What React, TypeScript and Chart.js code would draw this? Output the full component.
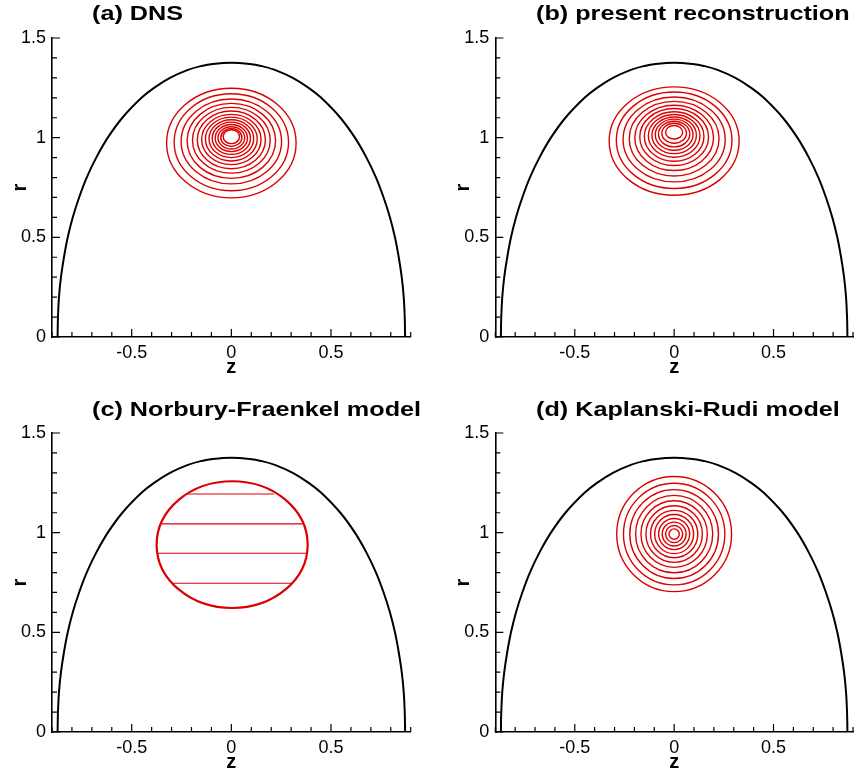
import React, { useEffect, useRef } from "react";
import { Chart, registerables } from "chart.js";

Chart.register(...registerables);

// ---------- tick labels ----------
const Z_TICKS = [-0.5, 0, 0.5];
const R_TICKS = [0, 0.5, 1, 1.5];
const Z_MINOR = [-0.9, -0.8, -0.7, -0.6, -0.5, -0.4, -0.3, -0.2, -0.1, 0, 0.1, 0.2, 0.3, 0.4, 0.5, 0.6, 0.7, 0.8, 0.9];
const R_MINOR = [0, 0.1, 0.2, 0.3, 0.4, 0.5, 0.6, 0.7, 0.8, 0.9, 1.0, 1.1, 1.2, 1.3, 1.4, 1.5];

// ---------- bubble boundary (left half, mirrored to the right) ----------
const BOUNDARY_R = [0, 0.1, 0.2, 0.3, 0.4, 0.5, 0.6, 0.7, 0.8, 0.9, 1.0, 1.1, 1.2, 1.25, 1.3, 1.34, 1.36, 1.37, 1.376];
const BOUNDARY_Z = [-0.872, -0.870, -0.865, -0.855, -0.840, -0.821, -0.796, -0.764, -0.726, -0.678, -0.62, -0.547, -0.451, -0.388, -0.308, -0.218, -0.149, -0.093, 0];

// ---------- (a) DNS contours (ellipses) ----------
const DNS_ZC = 0;
const DNS_RC = [0.973, 0.977, 0.981, 0.984, 0.987, 0.989, 0.991, 0.993, 0.995, 0.997, 0.998, 0.999, 1.001, 1.005];
const DNS_A = [0.325, 0.287, 0.252, 0.222, 0.195, 0.171, 0.149, 0.13, 0.112, 0.096, 0.081, 0.067, 0.053, 0.041];
const DNS_B = [0.275, 0.243, 0.213, 0.188, 0.165, 0.145, 0.126, 0.11, 0.095, 0.081, 0.068, 0.056, 0.045, 0.035];

// ---------- (b) present reconstruction contours ----------
const REC_ZC = 0;
const REC_RC = [0.983, 0.987, 0.991, 0.995, 0.999, 1.003, 1.006, 1.009, 1.012, 1.015, 1.018, 1.022, 1.027];
const REC_A = [0.327, 0.291, 0.257, 0.226, 0.198, 0.173, 0.15, 0.13, 0.112, 0.095, 0.079, 0.062, 0.043];
const REC_B = [0.272, 0.242, 0.213, 0.187, 0.164, 0.143, 0.124, 0.107, 0.092, 0.078, 0.064, 0.05, 0.034];

// ---------- (c) Norbury-Fraenkel: core outline and level lines ----------
const NF_ZC = 0.004;
const NF_RC = 0.94;
const NF_A = 0.379;
const NF_B = 0.318;
const NF_LINE_R = [1.194, 1.044, 0.897, 0.746];
const NF_LINE_Z0 = [-0.22, -0.352, -0.371, -0.293];
const NF_LINE_Z1 = [0.215, 0.358, 0.379, 0.31];

// ---------- (d) Kaplanski-Rudi contours (circles) ----------
const KR_ZC = 0;
const KR_RC = 0.993;
const KR_RADIUS = [0.289, 0.255, 0.223, 0.194, 0.167, 0.142, 0.119, 0.098, 0.078, 0.06, 0.043, 0.026];

const RED = "#dc0000";
const FONT = "'Liberation Sans', Arial, Helvetica, sans-serif";

type Ellipse = { zc: number; rc: number; a: number; b: number; w: number };

const dnsEllipses: Ellipse[] = DNS_A.map((a, i) => ({ zc: DNS_ZC, rc: DNS_RC[i], a, b: DNS_B[i], w: 1.4 }));
const recEllipses: Ellipse[] = REC_A.map((a, i) => ({ zc: REC_ZC, rc: REC_RC[i], a, b: REC_B[i], w: 1.4 }));
const krEllipses: Ellipse[] = KR_RADIUS.map((a) => ({ zc: KR_ZC, rc: KR_RC, a, b: a, w: 1.4 }));
const nfEllipses: Ellipse[] = [{ zc: NF_ZC, rc: NF_RC, a: NF_A, b: NF_B, w: 2.2 }];

const boundaryPoints = [
  ...BOUNDARY_Z.map((z, i) => ({ x: z, y: BOUNDARY_R[i] })),
  ...BOUNDARY_Z.slice(0, -1)
    .map((z, i) => ({ x: -z, y: BOUNDARY_R[i] }))
    .reverse(),
];

type PanelCfg = {
  id: string;
  title: string;
  left: number;
  top: number;
  w: number;
  h: number;
  area: { l: number; t: number; r: number; b: number };
  titleLeft: number;
  titleTop: number;
  ellipses: Ellipse[];
  nf?: boolean;
};

const Y_W = 52;
const X_H = 44;

const PANELS: PanelCfg[] = [
  { id: "a", title: "(a) DNS", left: 0, top: 0, w: 427, h: 388, area: { l: 52, t: 38, r: 410.7, b: 337 }, titleLeft: 92, titleTop: 2, ellipses: dnsEllipses },
  { id: "b", title: "(b) present reconstruction", left: 427, top: 0, w: 427, h: 388, area: { l: 68.3, t: 38, r: 426, b: 337 }, titleLeft: 535.5, titleTop: 2, ellipses: recEllipses },
  { id: "c", title: "(c) Norbury-Fraenkel model", left: 0, top: 388, w: 427, h: 388, area: { l: 52, t: 45, r: 410.7, b: 344 }, titleLeft: 92, titleTop: 397.5, ellipses: nfEllipses, nf: true },
  { id: "d", title: "(d) Kaplanski-Rudi model", left: 427, top: 388, w: 427, h: 388, area: { l: 68.3, t: 45, r: 426, b: 344 }, titleLeft: 535.5, titleTop: 397.5, ellipses: krEllipses },
];

function contourPlugin(ellipses: Ellipse[]) {
  return {
    id: "contours",
    afterDatasetsDraw(chart: any) {
      const { ctx, chartArea } = chart;
      const xs = chart.scales.x;
      const ys = chart.scales.y;
      ctx.save();
      ctx.beginPath();
      ctx.rect(chartArea.left, chartArea.top, chartArea.right - chartArea.left, chartArea.bottom - chartArea.top);
      ctx.clip();
      ctx.strokeStyle = RED;
      for (const e of ellipses) {
        const cx = xs.getPixelForValue(e.zc);
        const cy = ys.getPixelForValue(e.rc);
        const rx = Math.abs(xs.getPixelForValue(e.zc + e.a) - cx);
        const ry = Math.abs(ys.getPixelForValue(e.rc + e.b) - cy);
        ctx.lineWidth = e.w;
        ctx.beginPath();
        ctx.ellipse(cx, cy, rx, ry, 0, 0, Math.PI * 2);
        ctx.stroke();
      }
      ctx.restore();
    },
  };
}

const innerTicksPlugin = {
  id: "innerTicks",
  afterDraw(chart: any) {
    const { ctx, chartArea } = chart;
    const xs = chart.scales.x;
    const ys = chart.scales.y;
    ctx.save();
    ctx.strokeStyle = "#000";
    ctx.lineWidth = 1.2;
    ctx.beginPath();
    for (const v of Z_MINOR) {
      const major = Z_TICKS.some((t) => Math.abs(t - v) < 1e-9);
      const len = major ? 8 : 5;
      const px = xs.getPixelForValue(v);
      ctx.moveTo(px, chartArea.bottom);
      ctx.lineTo(px, chartArea.bottom - len);
    }
    for (const v of R_MINOR) {
      const major = R_TICKS.some((t) => Math.abs(t - v) < 1e-9);
      const len = major ? 8 : 5;
      const py = ys.getPixelForValue(v);
      ctx.moveTo(chartArea.left, py);
      ctx.lineTo(chartArea.left + len, py);
    }
    ctx.stroke();
    ctx.restore();
  },
};

function Panel({ cfg }: { cfg: PanelCfg }) {
  const ref = useRef<HTMLCanvasElement>(null);
  useEffect(() => {
    const datasets: any[] = [
      {
        label: "boundary",
        data: boundaryPoints,
        showLine: true,
        borderColor: "#000",
        borderWidth: 2,
        pointRadius: 0,
        tension: 0.4,
        fill: false,
      },
    ];
    if (cfg.nf) {
      NF_LINE_R.forEach((r, i) => {
        datasets.push({
          label: "NF level " + i,
          data: [
            { x: NF_LINE_Z0[i], y: r },
            { x: NF_LINE_Z1[i], y: r },
          ],
          showLine: true,
          borderColor: RED,
          borderWidth: 1.1,
          pointRadius: 0,
          fill: false,
        });
      });
    }
    const a = cfg.area;
    const chart = new Chart(ref.current as HTMLCanvasElement, {
      type: "scatter",
      data: { datasets },
      options: {
        responsive: false,
        animation: false,
        events: [],
        layout: {
          padding: { left: a.l - Y_W, top: a.t, right: cfg.w - a.r, bottom: cfg.h - a.b - X_H },
        },
        plugins: {
          legend: { display: false },
          tooltip: { enabled: false },
          title: { display: false },
        },
        scales: {
          x: {
            type: "linear",
            min: -0.9,
            max: 0.9,
            afterBuildTicks: (s: any) => {
              s.ticks = Z_TICKS.map((v) => ({ value: v }));
            },
            afterFit: (s: any) => {
              s.height = X_H;
            },
            grid: { display: true, drawOnChartArea: false, drawTicks: false },
            border: { display: true, color: "#000", width: 1.6 },
            ticks: {
              color: "#000",
              padding: 5,
              maxRotation: 0,
              autoSkip: false,
              font: { family: FONT, size: 18 },
              callback: (v: any) => String(v),
            },
            title: {
              display: true,
              text: "z",
              color: "#000",
              padding: { top: 0, bottom: 2 },
              font: { family: FONT, size: 20, weight: "bold" },
            },
          },
          y: {
            type: "linear",
            min: 0,
            max: 1.5,
            afterBuildTicks: (s: any) => {
              s.ticks = R_TICKS.map((v) => ({ value: v }));
            },
            afterFit: (s: any) => {
              s.width = Y_W;
            },
            grid: { display: true, drawOnChartArea: false, drawTicks: false },
            border: { display: true, color: "#000", width: 1.6 },
            ticks: {
              color: "#000",
              padding: 6,
              autoSkip: false,
              font: { family: FONT, size: 18 },
              callback: (v: any) => String(v),
            },
            title: {
              display: true,
              text: "r",
              color: "#000",
              padding: { top: 8, bottom: 0 },
              font: { family: FONT, size: 20, weight: "bold" },
            },
          },
        },
      } as any,
      plugins: [contourPlugin(cfg.ellipses), innerTicksPlugin],
    });
    return () => chart.destroy();
  }, [cfg]);
  return (
    <canvas
      ref={ref}
      width={cfg.w}
      height={cfg.h}
      style={{ position: "absolute", left: cfg.left, top: cfg.top, width: cfg.w, height: cfg.h }}
    />
  );
}

export default function App() {
  return (
    <div style={{ position: "absolute", left: 0, top: 0, width: 854, height: 776, background: "#fff", overflow: "hidden" }}>
      {PANELS.map((p) => (
        <Panel key={p.id} cfg={p} />
      ))}
      {PANELS.map((p) => (
        <div
          key={"t" + p.id}
          style={{
            position: "absolute",
            left: p.titleLeft,
            top: p.titleTop,
            fontFamily: FONT,
            fontWeight: "bold",
            fontSize: 21,
            lineHeight: "21px",
            whiteSpace: "nowrap",
            color: "#000",
            transform: "scaleX(1.2)",
            transformOrigin: "left top",
          }}
        >
          {p.title}
        </div>
      ))}
    </div>
  );
}
